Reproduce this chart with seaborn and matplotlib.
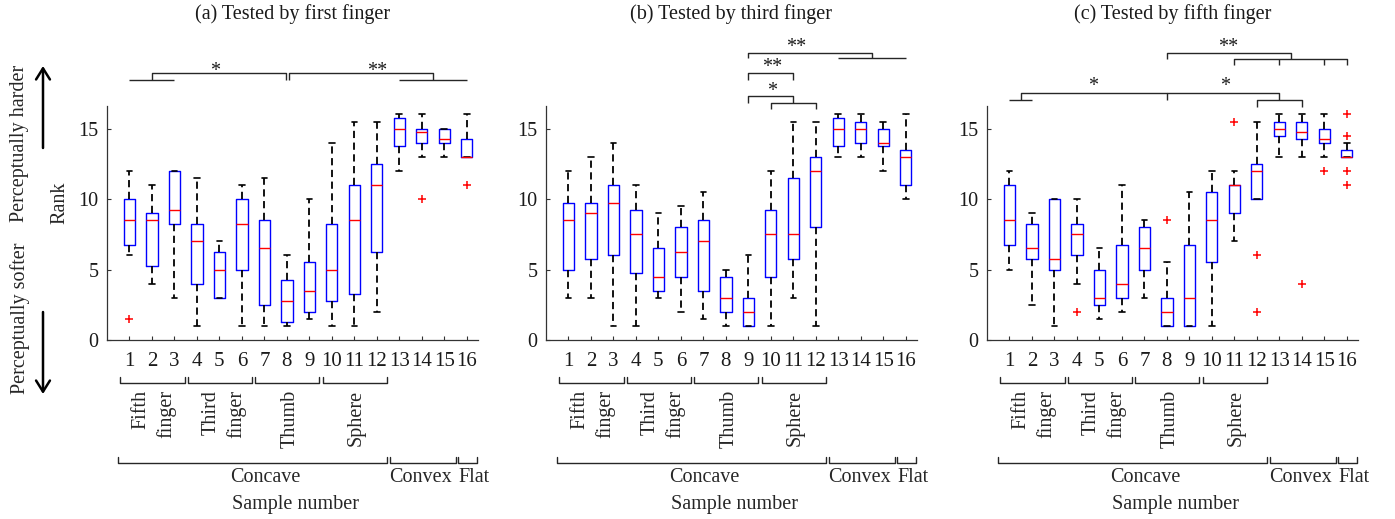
import numpy as np
import pandas as pd
import matplotlib
matplotlib.use("Agg")
import matplotlib.pyplot as plt
import matplotlib.transforms as mtransforms
import seaborn as sns

# ---------------- data ----------------
samples = list(range(1, 17))

# (a) tested by first finger: whisker low, Q1, median, Q3, whisker high
a_lo = [6, 4, 3, 1, 3, 1, 1, 1, 1.5, 1, 1, 2, 12, 13, 13, 13]
a_q1 = [6.75, 5.25, 8.25, 4, 3, 5, 2.5, 1.25, 2, 2.75, 3.25, 6.25, 13.75, 14, 14, 13]
a_med = [8.5, 8.5, 9.25, 7, 5, 8.25, 6.5, 2.75, 3.5, 5, 8.5, 11, 15, 14.75, 14.25, 13]
a_q3 = [10, 9, 12, 8.25, 6.25, 10, 8.5, 4.25, 5.5, 8.25, 11, 12.5, 15.75, 15, 15, 14.25]
a_hi = [12, 11, 12, 11.5, 7, 11, 11.5, 6, 10, 14, 15.5, 15.5, 16, 16, 15, 16]
a_out_x = [1, 14, 16]
a_out_y = [1.5, 10, 11]

# (b) tested by third finger
b_lo = [3, 3, 1, 1, 3, 2, 1.5, 1, 1, 1, 3, 1, 13, 13, 12, 10]
b_q1 = [5, 5.75, 6, 4.75, 3.5, 4.5, 3.5, 2, 1, 4.5, 5.75, 8, 13.75, 14, 13.75, 11]
b_med = [8.5, 9, 9.75, 7.5, 4.5, 6.25, 7, 3, 2, 7.5, 7.5, 12, 15, 15, 14, 13]
b_q3 = [9.75, 9.75, 11, 9.25, 6.5, 8, 8.5, 4.5, 3, 9.25, 11.5, 13, 15.75, 15.5, 15, 13.5]
b_hi = [12, 13, 14, 11, 9, 9.5, 10.5, 5, 6, 12, 15.5, 15.5, 16, 16, 15.5, 16]
b_out_x = []
b_out_y = []

# (c) tested by fifth finger
c_lo = [5, 2.5, 1, 4, 1.5, 2, 3, 1, 1, 1, 7, 10, 13, 13, 13, 13]
c_q1 = [6.75, 5.75, 5, 6, 2.5, 3, 5, 1, 1, 5.5, 9, 10, 14.5, 14.25, 14, 13]
c_med = [8.5, 6.5, 5.75, 7.5, 3, 4, 6.5, 2, 3, 8.5, 11, 12, 15, 14.75, 14.25, 13]
c_q3 = [11, 8.25, 10, 8.25, 5, 6.75, 8, 3, 6.75, 10.5, 11, 12.5, 15.5, 15.5, 15, 13.5]
c_hi = [12, 9, 10, 10, 6.5, 11, 8.5, 5.5, 10.5, 12, 12, 15.5, 16, 16, 16, 14]
c_out_x = [4, 8, 11, 12, 12, 14, 15, 16, 16, 16, 16]
c_out_y = [2, 8.5, 15.5, 6, 2, 4, 12, 16, 14.5, 12, 11]

titles = ["(a) Tested by first finger", "(b) Tested by third finger",
          "(c) Tested by fifth finger"]
sub_groups = ["Fifth\nfinger", "Third\nfinger", "Thumb", "Sphere"]
main_groups = ["Concave", "Convex", "Flat"]
y_ticks = [0, 5, 10, 15]

panels = [
    (a_lo, a_q1, a_med, a_q3, a_hi, a_out_x, a_out_y),
    (b_lo, b_q1, b_med, b_q3, b_hi, b_out_x, b_out_y),
    (c_lo, c_q1, c_med, c_q3, c_hi, c_out_x, c_out_y),
]

# ---------------- layout ----------------
W, H = 1395, 519
FS = 14.5
sns.set_theme(style="ticks")
plt.rcParams["font.family"] = ["Liberation Serif", "DejaVu Serif"]
plt.rcParams["mathtext.fontset"] = "stix"

fig = plt.figure(figsize=(W / 100, H / 100), dpi=100)
fig.patch.set_facecolor("white")


def fy(p):
    return 1 - p / H


ax_left_px = [107, 546, 987]
AX_W, AX_BOT, AX_TOP = 371, 340, 106
LINE_C = "0.15"

# significance brackets: (x list, y pixel list)
sig_lines = [
    [([1, 3], [80, 80]),
     ([2, 2, 7.96, 7.96], [80, 73, 73, 80]),
     ([8.09, 8.09, 14.5, 14.5], [80, 73, 73, 80]),
     ([13, 16], [80, 80])],
    [([9, 9, 14.5, 14.5], [58, 53, 53, 58]),
     ([13, 16], [58, 58]),
     ([9, 9, 11, 11], [80, 73, 73, 80]),
     ([9, 9, 11, 11], [103, 96, 96, 103]),
     ([10, 10, 12, 12], [109, 103, 103, 109])],
    [([8, 8, 13.5, 13.5], [59, 53, 53, 59]),
     ([11, 11, 16, 16], [65, 59, 59, 65]),
     ([13, 13], [59, 65]),
     ([15, 15], [59, 65]),
     ([1, 2], [100, 100]),
     ([1.5, 1.5, 8, 8], [100, 93, 93, 100]),
     ([8, 13, 13], [93, 93, 100]),
     ([12, 12, 14, 14], [107, 100, 100, 107])],
]
sig_text = [
    [("*", 4.8, 67), ("**", 12.0, 67)],
    [("**", 11.13, 43), ("**", 10.07, 63), ("*", 10.07, 88)],
    [("**", 10.72, 43), ("*", 4.73, 83), ("*", 10.6, 83)],
]

sub_spans = [(0.6, 3.45), (3.6, 6.45), (6.6, 9.45), (9.6, 12.45)]
sub_label_x = [2.1, 5.2, 8.15, 11.1]
main_spans = [(0.5, 12.47), (12.6, 15.5), (15.6, 16.45)]
main_label_x = [7.05, 13.95, 16.3]

for i, (lo, q1, med, q3, hi, ox, oy) in enumerate(panels):
    left = ax_left_px[i]
    ax = fig.add_axes([left / W, 1 - AX_BOT / H, AX_W / W, (AX_BOT - AX_TOP) / H])
    ax.set_facecolor("white")
    df = pd.DataFrame({
        "sample": np.repeat(samples, 5),
        "rank": np.column_stack([lo, q1, med, q3, hi]).ravel(),
    })
    sns.boxplot(data=df, x="sample", y="rank", orient="x", native_scale=True,
                whis=(0, 100), width=0.5, fill=False, showfliers=False,
                color="#0000ff", linewidth=1.0,
                boxprops=dict(color="#0000ff", linewidth=1.0),
                medianprops=dict(color="#ff0000", linewidth=1.0),
                whiskerprops=dict(color="black", linestyle=(0, (4, 2.5)),
                                  linewidth=1.3),
                capprops=dict(color="black", linewidth=1.2),
                ax=ax)
    if len(ox):
        sns.scatterplot(x=ox, y=oy, marker="+", color="#ff0000", s=40,
                        linewidth=1.1, legend=False, zorder=4, ax=ax)

    trans = mtransforms.blended_transform_factory(ax.transData, fig.transFigure)

    for xs, ys in sig_lines[i]:
        ax.plot(xs, [fy(p) for p in ys], transform=trans, clip_on=False,
                color=LINE_C, lw=1.0, solid_capstyle="butt")
    for s, x, p in sig_text[i]:
        ax.text(x, fy(p + 8.5), s, transform=trans, ha="center",
                va="baseline", fontsize=FS, color="0.1")

    # group brackets below axis
    for (x0, x1), lab, lx in zip(sub_spans, sub_groups, sub_label_x):
        ax.plot([x0, x0, x1, x1], [fy(377), fy(383), fy(383), fy(377)],
                transform=trans, clip_on=False, color=LINE_C, lw=1.0)
        ax.text(lx, fy(390), lab, transform=trans, rotation=90, ha="center",
                va="top", multialignment="right", linespacing=1.4,
                fontsize=FS)
    for (x0, x1), lab, lx in zip(main_spans, main_groups, main_label_x):
        ax.plot([x0, x0, x1, x1], [fy(457), fy(463), fy(463), fy(457)],
                transform=trans, clip_on=False, color=LINE_C, lw=1.0)
        ax.text(lx, fy(478), lab, transform=trans, ha="center", va="center",
                fontsize=FS)
    ax.text(8.4, fy(505), "Sample number", transform=trans, ha="center",
            va="center", fontsize=FS)

    ax.set_xlim(0, 16.5)
    ax.set_ylim(0, 16.6)
    ax.set_xticks(samples)
    ax.set_xticklabels([str(s) for s in samples])
    ax.set_yticks(y_ticks)
    ax.set_xlabel("")
    ax.set_ylabel("")
    sns.despine(ax=ax)
    for sp in ["left", "bottom"]:
        ax.spines[sp].set_color("0.2")
        ax.spines[sp].set_linewidth(0.9)
    ax.tick_params(axis="both", direction="in", length=3, width=0.8,
                   color="0.2", labelsize=FS, labelcolor="0.1")
    ax.tick_params(axis="x", pad=9, labelsize=15)
    ax.tick_params(axis="y", pad=6)

    fig.text((left + AX_W / 2) / W, fy(14), titles[i], ha="center",
             va="center", fontsize=FS, color="0.1")

# left-side labels and arrows
fig.text(60 / W, fy(203), "Rank", rotation=90, ha="center", va="center",
         fontsize=FS)
fig.text(20 / W, fy(143), "Perceptually harder", rotation=90, ha="center",
         va="center", fontsize=FS)
fig.text(20 / W, fy(318), "Perceptually softer", rotation=90, ha="center",
         va="center", fontsize=FS)
arrow_kw = dict(arrowstyle="->,head_length=0.4,head_width=0.25", lw=1.8,
                color="black", shrinkA=0, shrinkB=0, mutation_scale=20)
fig.axes[0].annotate("", xy=(43, H - 66), xytext=(43, H - 148),
                     xycoords="figure pixels", textcoords="figure pixels",
                     arrowprops=arrow_kw, annotation_clip=False)
fig.axes[0].annotate("", xy=(43, H - 394), xytext=(43, H - 312),
                     xycoords="figure pixels", textcoords="figure pixels",
                     arrowprops=arrow_kw, annotation_clip=False)

fig.savefig("out.png", dpi=100, facecolor="white")
